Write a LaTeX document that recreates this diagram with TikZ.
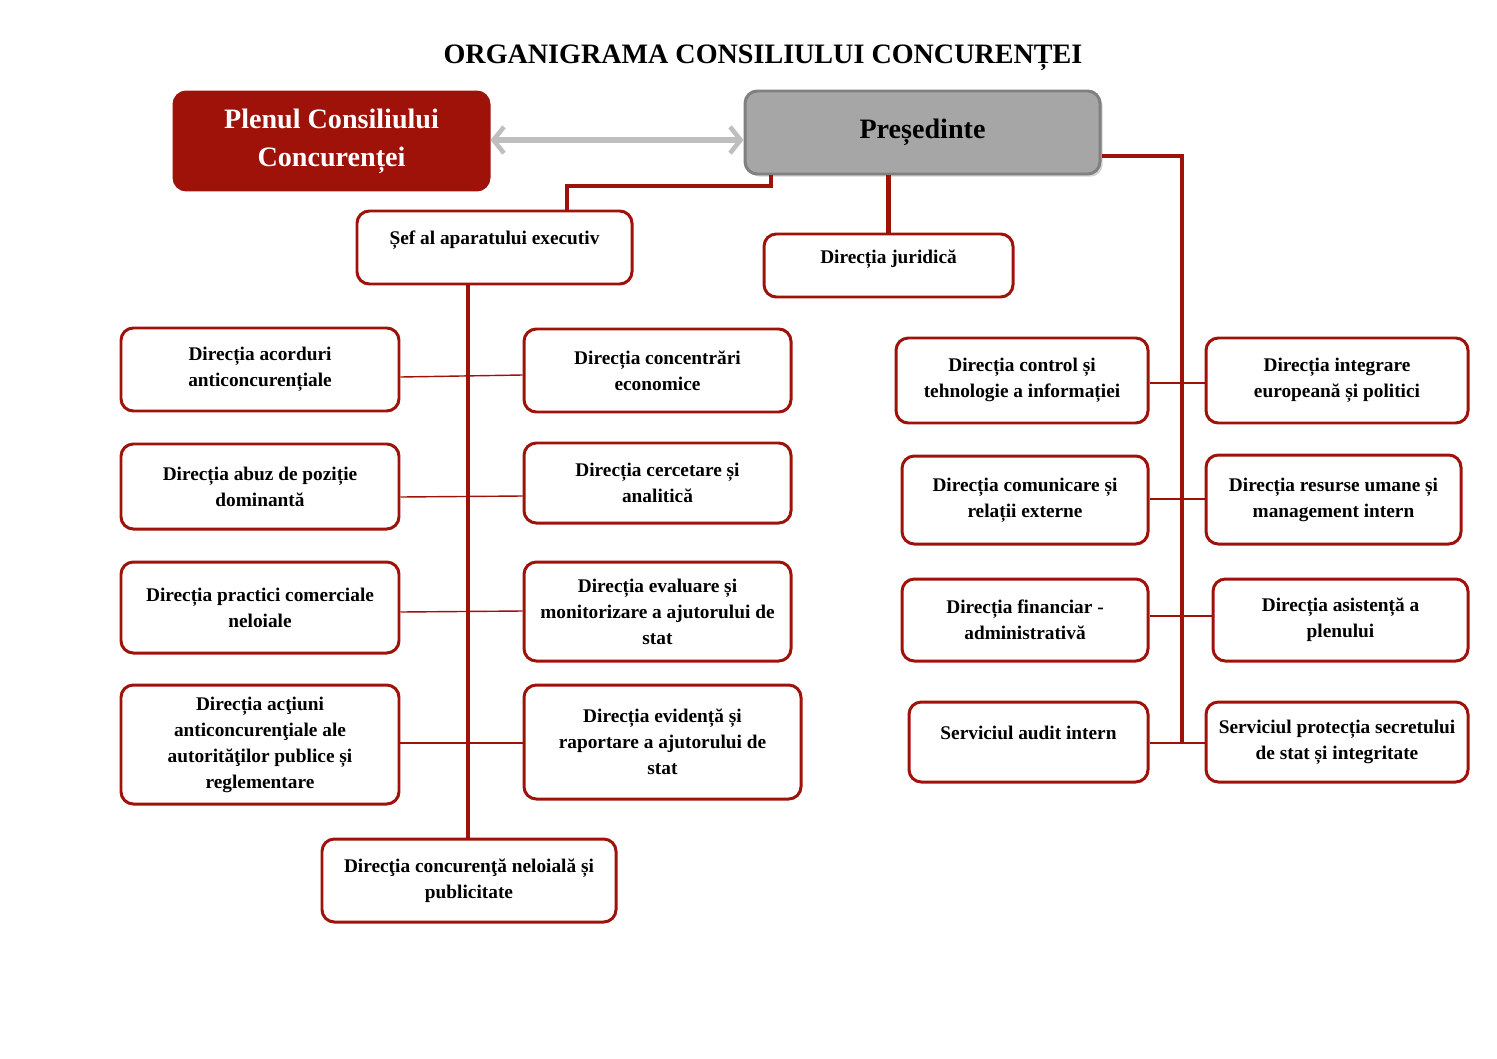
\documentclass[tikz,border=0pt]{standalone}
\usepackage{fontspec}
\setmainfont{Liberation Serif}
\usepackage{xcolor}
\usetikzlibrary{arrows.meta,positioning,shadows}

\definecolor{ccred}{RGB}{158,18,10}
\definecolor{ccgray}{RGB}{166,166,166}
\definecolor{ccedge}{RGB}{128,128,128}
\definecolor{ccarrow}{RGB}{190,190,190}
\newcommand{\boxfont}{\bfseries\fontsize{11}{14.8}\selectfont}
\newcommand{\bigfont}{\bfseries\fontsize{16}{21.6}\selectfont}

\begin{document}
\begin{tikzpicture}[x=0.02cm, y=-0.02cm,
  box/.style={draw=ccred, line width=1.7pt, rounded corners=7pt, fill=white,
    align=center, font=\boxfont, inner sep=2pt},
  head/.style={box, font=\bigfont},
  sz/.style 2 args={minimum width=#1*0.02cm, minimum height=#2*0.02cm},
  lift/.style={text depth=#1},
  trunk/.style={draw=ccred, line width=2.6pt},
  link/.style={draw=ccred, line width=0.8pt},
  >={Straight Barb[length=6pt, width=15pt, line width=2.6pt]}]
  \useasboundingbox (0,0) rectangle (1497,1058);

  \node[font=\bfseries\fontsize{16}{19}\selectfont] (title) at (763,58)
    {ORGANIGRAMA CONSILIULUI CONCURENȚEI};

  % top level
  \node[head, sz={315}{98}, fill=ccred, text=white] (plen) at (331.5,141)
    {Plenul Consiliului\\Concurenței};
  \node[head, sz={355}{83}, draw=ccedge, fill=ccgray,
    drop shadow={opacity=0.35, shadow xshift=1.5pt, shadow yshift=-1.5pt}]
    (pres) at (922.5,132.5) {Președinte};
  \draw[<->, draw=ccarrow, line width=3.8pt] (plen.east |- 0,140) -- (pres.west |- 0,140);

  \node[box, sz={275}{73}, lift=11.5pt] (sef) at (494.5,247.5) {Șef al aparatului executiv};
  \node[box, sz={249}{63}, lift=10.5pt] (jur) at (888.5,265.5) {Direcția juridică};

  % executive side
  \node[box, sz={278}{83}] (acord) at (260,369.5) {Direcția acorduri\\anticoncurențiale};
  \node[box, sz={278}{85}] (abuz) at (260,486.5) {Direcția abuz de poziție\\dominantă};
  \node[box, sz={278}{91}] (pract) at (260,607.5) {Direcția practici comerciale\\neloiale};
  \node[box, sz={278}{119}] (actiuni) at (260,744.5)
    {Direcția acţiuni\\anticoncurenţiale ale\\autorităţilor publice și\\reglementare};
  \node[box, sz={267}{83}] (conc) at (657.5,370.5) {Direcția concentrări\\economice};
  \node[box, sz={267}{80}] (cerc) at (657.5,483) {Direcția cercetare și\\analitică};
  \node[box, sz={267}{99}] (eval) at (657.5,611.5)
    {Direcția evaluare și\\monitorizare a ajutorului de\\stat};
  \node[box, sz={277}{114}] (evid) at (662.5,742)
    {Direcția evidență și\\raportare a ajutorului de\\stat};
  \node[box, sz={294}{83}] (nelo) at (469,880.5) {Direcţia concurenţă neloială și\\publicitate};

  % president side
  \node[box, sz={252}{85}] (ctrl) at (1022,380.5) {Direcția control și\\tehnologie a informației};
  \node[box, sz={246}{88}] (comun) at (1025,500) {Direcția comunicare și\\relații externe};
  \node[box, sz={246}{82}] (finan) at (1025,620) {Direcția financiar -\\administrativă};
  \node[box, sz={239}{80}, lift=10pt] (audit) at (1028.5,742) {Serviciul audit intern};
  \node[box, sz={262}{85}] (integ) at (1337,380.5) {Direcția integrare\\europeană și politici};
  \node[box, sz={255}{89}] (resur) at (1333.5,499.5) {Direcția resurse umane și\\management intern};
  \node[box, sz={255}{82}] (asist) at (1340.5,620) {Direcția asistență a\\plenului};
  \node[box, sz={262}{80}] (protec) at (1337,742) {Serviciul protecția secretului\\de stat și integritate};

  % trunks
  \coordinate (rend) at (1182,743);
  \draw[trunk] (pres.south -| 771,0) |- (567,186) -- (sef.north -| 567,0);
  \draw[trunk] (pres.south -| jur.north) -- (jur.north);
  \draw[trunk] (pres.east |- 0,156) -| (rend);
  \draw[trunk] (sef.south -| 468,0) -- (nelo.north -| 468,0);

  % branches
  \draw[link] (acord.east |- 0,377) -- (conc.west |- 0,375);
  \draw[link] (abuz.east |- 0,497) -- (cerc.west |- 0,496);
  \draw[link] (pract.east |- 0,612) -- (eval.west |- 0,611);
  \draw[link] (actiuni.east |- 0,743) -- (evid.west |- 0,743);
  \draw[link] (ctrl.east |- 0,383) -- (integ.west |- 0,383);
  \draw[link] (comun.east |- 0,499) -- (resur.west |- 0,499);
  \draw[link] (finan.east |- 0,616) -- (asist.west |- 0,616);
  \draw[link] (audit.east |- 0,743) -- (protec.west |- 0,743);
\end{tikzpicture}
\end{document}
